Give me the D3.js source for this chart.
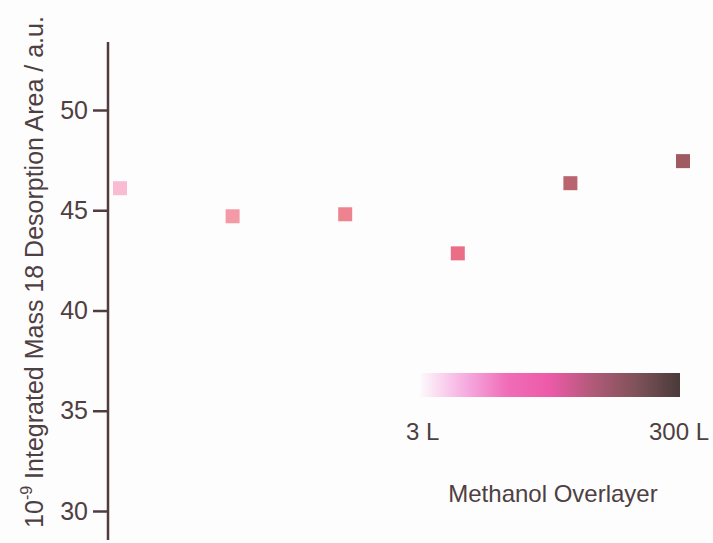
<!DOCTYPE html>
<html>
<head>
<meta charset="utf-8">
<script src="https://cdn.jsdelivr.net/npm/d3@7"></script>
<style>
  body { margin: 0; background: #fdfdfd; }
  text { font-family: "Liberation Sans", Arial, sans-serif; fill: #4e4042; }
</style>
</head>
<body>
<div id="chart"></div>
<script>
// overlayer index (3 L ... 300 L) and integrated desorption area
var samples = [0, 1, 2, 3, 4, 5];
var areas = [46.1, 44.7, 44.8, 42.85, 46.35, 47.45];
var pointColors = ["#f9bcd2", "#f49aa6", "#ee8390", "#ea6f86", "#b9646f", "#a05a62"];
var yTicks = [30, 35, 40, 45, 50];
var gradStops = ["#fdfafc", "#f6b0e2", "#f06db8", "#ec5aa8", "#b05a78", "#7e5258", "#4a3a3a"];
var rangeLabels = ["3 L", "300 L"];

var width = 713, height = 543;

var svg = d3.select("#chart").append("svg")
	.attr("width", width)
	.attr("height", height);

var x = d3.scaleLinear().domain([0, 5]).range([120, 683]);
var y = d3.scaleLinear().domain([30, 50]).range([511, 110]);

// y axis
var axis = svg.append("g")
	.attr("transform", "translate(108,0)")
	.call(d3.axisLeft(y).tickValues(yTicks).tickSize(15).tickPadding(5));
axis.select(".domain").remove();
axis.selectAll(".tick line").attr("stroke", "#523c3e").attr("stroke-width", 2.5);
axis.selectAll(".tick text").style("font-size", "25px").attr("fill", "#4e4042")
	.style("font-family", "Liberation Sans, Arial, sans-serif");
svg.append("line")
	.attr("x1", 108).attr("x2", 108)
	.attr("y1", 42).attr("y2", 540)
	.attr("stroke", "#523c3e").attr("stroke-width", 2.5);

svg.append("text")
	.attr("transform", "translate(43,272) rotate(-90)")
	.attr("text-anchor", "middle")
	.style("font-size", "25px")
	.html('10<tspan dy="-11" font-size="16px">-9</tspan><tspan dy="11"> Integrated Mass 18 Desorption Area / a.u.</tspan>');

// points
var size = 14;
svg.selectAll("rect.pt")
	.data(samples)
	.enter().append("rect")
	.attr("class", "pt")
	.attr("x", function(d) { return x(d) - size / 2; })
	.attr("y", function(d, i) { return y(areas[i]) - size / 2; })
	.attr("width", size)
	.attr("height", size)
	.attr("fill", function(d, i) { return pointColors[i]; });

// colour bar legend
var defs = svg.append("defs");
var grad = defs.append("linearGradient").attr("id", "overlayer-grad")
	.attr("x1", "0%").attr("y1", "0%").attr("x2", "100%").attr("y2", "0%");
grad.selectAll("stop")
	.data(gradStops)
	.enter().append("stop")
	.attr("offset", function(d, i) { return i / (gradStops.length - 1); })
	.attr("stop-color", function(d) { return d; });

svg.append("rect")
	.attr("x", 420).attr("y", 373)
	.attr("width", 260).attr("height", 24)
	.style("fill", "url(#overlayer-grad)");

svg.append("text").attr("x", 406).attr("y", 440)
	.style("font-size", "24px").text(rangeLabels[0]);
svg.append("text").attr("x", 709).attr("y", 440)
	.attr("text-anchor", "end")
	.style("font-size", "24px").text(rangeLabels[1]);
svg.append("text").attr("x", 553).attr("y", 502)
	.attr("text-anchor", "middle")
	.style("font-size", "24px").text("Methanol Overlayer");
</script>
</body>
</html>
